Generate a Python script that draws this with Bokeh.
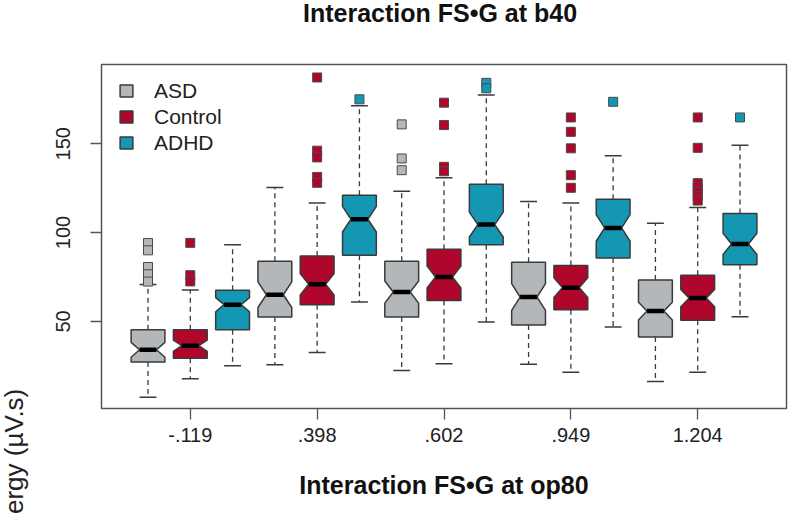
import math
from bokeh.plotting import figure
from bokeh.models import Range1d, FixedTicker, Legend, LegendItem, Div
from bokeh.layouts import column, row
from bokeh.embed import file_html
from bokeh.resources import INLINE

# ---------------- data ----------------
TITLE = "Interaction FS\u2022G at b40"
X_TITLE = "Interaction FS\u2022G at op80"
Y_TITLE = "ergy (\u00b5V.s)"
GROUP_LABELS = ["-.119", ".398", ".602", ".949", "1.204"]
SERIES = ["ASD", "Control", "ADHD"]
COLORS = ["#b3b7ba", "#b0062c", "#1497b2"]

ASD_LOWER = [7.3, 25.6, 22.4, 25.8, 16.2]
ASD_Q1 = [27.1, 52.4, 52.4, 47.9, 41.2]
ASD_MED = [34.0, 65.0, 66.5, 63.7, 55.8]
ASD_Q3 = [45.3, 83.8, 83.8, 83.3, 73.3]
ASD_UPPER = [70.7, 125.4, 123.3, 117.5, 105.2]
ASD_NOTCH = [4.2, 7.2, 6.2, 7.5, 5.0]
ASD_OUT = [[94.1, 90.0, 80.6, 76.5, 72.4], [], [160.9, 141.7, 135.1], [], []]

CTRL_LOWER = [17.7, 32.5, 26.1, 21.3, 21.3]
CTRL_Q1 = [29.3, 59.4, 61.8, 56.6, 50.6]
CTRL_MED = [36.3, 70.9, 75.0, 69.0, 63.1]
CTRL_Q3 = [45.3, 86.8, 90.6, 81.4, 75.9]
CTRL_UPPER = [67.7, 116.7, 130.8, 116.7, 114.1]
CTRL_NOTCH = [3.2, 6.0, 6.2, 5.6, 4.9]
CTRL_OUT = [[94.2, 76.0, 72.5],
            [187.3, 146.1, 142.3, 131.3, 128.0],
            [173.1, 160.5, 137.0, 134.5],
            [164.8, 156.7, 147.4, 132.3, 125.2],
            [164.8, 147.7, 127.8, 125.5, 123.0, 120.5, 118.0]]

ADHD_LOWER = [25.0, 60.9, 49.6, 46.8, 52.6]
ADHD_Q1 = [45.3, 87.2, 93.2, 85.7, 81.9]
ADHD_MED = [59.4, 107.5, 104.5, 102.6, 93.6]
ADHD_Q3 = [67.5, 121.0, 127.2, 118.8, 110.7]
ADHD_UPPER = [93.2, 171.4, 177.4, 143.2, 149.2]
ADHD_NOTCH = [4.0, 7.2, 7.0, 7.5, 6.0]
ADHD_OUT = [[], [175.0], [184.3, 181.2], [173.6], [164.8]]

Y_TICKS = [50, 100, 150]

STATS = {
    "ASD": (ASD_LOWER, ASD_Q1, ASD_MED, ASD_Q3, ASD_UPPER, ASD_NOTCH, ASD_OUT),
    "Control": (CTRL_LOWER, CTRL_Q1, CTRL_MED, CTRL_Q3, CTRL_UPPER, CTRL_NOTCH, CTRL_OUT),
    "ADHD": (ADHD_LOWER, ADHD_Q1, ADHD_MED, ADHD_Q3, ADHD_UPPER, ADHD_NOTCH, ADHD_OUT),
}

# ---------------- layout ----------------
FONT = "Liberation Sans"
EDGE = "#3a3a3a"
n_boxes = len(GROUP_LABELS) * len(SERIES)

TITLE_H = 26
PLOT_H = 496
YLAB_W = 32

title_div = Div(
    text=('<div style="width:792px;box-sizing:border-box;padding-left:88px;text-align:center;'
          'font-family:\'Liberation Sans\';font-weight:bold;font-size:25px;line-height:26px;'
          'color:#111111;white-space:nowrap;">' + TITLE + '</div>'),
    width=792, height=TITLE_H, margin=0)

ylab_div = Div(
    text=('<div style="position:relative;width:%dpx;height:%dpx;">'
          '<div style="position:absolute;left:0;top:488px;transform:rotate(-90deg);'
          'transform-origin:0 0;white-space:nowrap;font-family:\'Liberation Sans\';'
          'font-size:26px;line-height:29px;color:#222222;">%s</div></div>') % (YLAB_W, PLOT_H, Y_TITLE),
    width=YLAB_W, height=PLOT_H, margin=0)

p = figure(width=792 - YLAB_W, height=PLOT_H,
           x_range=Range1d(-0.1, n_boxes + 1.1), y_range=Range1d(0.96, 194.6),
           output_backend="svg", toolbar_location=None, margin=0,
           min_border_left=101 - YLAB_W, min_border_right=6, min_border_top=38, min_border_bottom=114)
p.grid.visible = False
p.outline_line_color = "#555555"
p.outline_line_width = 1.5
p.background_fill_color = "white"
p.border_fill_color = "white"

BW = 0.4      # half box width
SW = 0.2      # half staple width / notch inner half width

legend_renderers = []
for s_idx, name in enumerate(SERIES):
    lower, q1, med, q3, upper, notch, outs = STATS[name]
    color = COLORS[s_idx]
    pos = [len(SERIES) * g + s_idx + 1 for g in range(len(GROUP_LABELS))]

    # whiskers
    p.segment(x0=pos, y0=q3, x1=pos, y1=upper, line_color=EDGE, line_width=1.3, line_dash="5 4")
    p.segment(x0=pos, y0=q1, x1=pos, y1=lower, line_color=EDGE, line_width=1.3, line_dash="5 4")
    # staples
    left = [x - SW for x in pos]
    right = [x + SW for x in pos]
    p.segment(x0=left, y0=upper, x1=right, y1=upper, line_color=EDGE, line_width=1.5)
    p.segment(x0=left, y0=lower, x1=right, y1=lower, line_color=EDGE, line_width=1.5)

    # notched boxes
    xs_list, ys_list = [], []
    for x, a, m, b, n in zip(pos, q1, med, q3, notch):
        xs_list.append([x - BW, x - BW, x - SW, x - BW, x - BW,
                        x + BW, x + BW, x + SW, x + BW, x + BW])
        ys_list.append([a, m - n, m, m + n, b, b, m + n, m, m - n, a])
    r = p.patches(xs_list, ys_list, fill_color=color, line_color=EDGE, line_width=1.5)
    legend_renderers.append(r)

    # medians
    p.segment(x0=left, y0=med, x1=right, y1=med, line_color="black", line_width=4.5)

    # outliers
    ox, oy = [], []
    for x, vals in zip(pos, outs):
        for v in vals:
            ox.append(x)
            oy.append(v)
    if ox:
        p.scatter(ox, oy, marker="square", size=9, fill_color=color,
                  line_color="#4a4a4a", line_width=1)

# axes
p.xaxis.ticker = FixedTicker(ticks=[len(SERIES) * g + 2 for g in range(len(GROUP_LABELS))])
p.xaxis.major_label_overrides = {len(SERIES) * g + 2: lab for g, lab in enumerate(GROUP_LABELS)}
p.yaxis.ticker = FixedTicker(ticks=Y_TICKS)
for ax in (p.xaxis[0], p.yaxis[0]):
    ax.axis_line_color = None
    ax.major_tick_out = 11
    ax.major_tick_in = 0
    ax.minor_tick_line_color = None
    ax.major_tick_line_color = "#555555"
    ax.major_tick_line_width = 1.3
    ax.major_label_text_font = FONT
    ax.major_label_text_font_size = "20px"
    ax.major_label_text_color = "#222222"
p.xaxis.major_label_standoff = 8
p.yaxis.major_label_orientation = "vertical"
p.yaxis.major_label_standoff = 20

p.xaxis.axis_label = X_TITLE
p.xaxis.axis_label_text_font = FONT
p.xaxis.axis_label_text_font_style = "bold"
p.xaxis.axis_label_text_font_size = "25px"
p.xaxis.axis_label_text_color = "#111111"
p.xaxis.axis_label_standoff = 26

legend = Legend(items=[LegendItem(label=n, renderers=[r]) for n, r in zip(SERIES, legend_renderers)],
                location=(17, 253.5), border_line_color=None, background_fill_alpha=0,
                label_text_font=FONT, label_text_font_size="21px", label_text_color="#222222",
                glyph_width=16, glyph_height=15, label_height=15, label_standoff=20,
                spacing=2, padding=0, margin=0)
p.add_layout(legend)

layout = column(title_div, row(ylab_div, p, spacing=0, margin=0), spacing=0, margin=0)
open("out.html", "w").write(file_html(layout, INLINE))
